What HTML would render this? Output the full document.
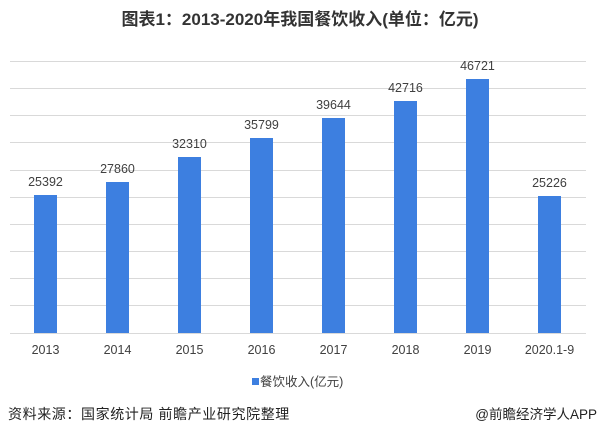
<!DOCTYPE html>
<html><head><meta charset="utf-8"><style>
body{margin:0;background:#fff;}
svg text{font-family:"Liberation Sans","Noto Sans CJK SC",sans-serif;}
</style></head><body>
<svg width="600" height="441" viewBox="0 0 600 441" xmlns="http://www.w3.org/2000/svg">
<rect width="600" height="441" fill="#fff"/>
<text x="300" y="25" text-anchor="middle" font-size="17" font-weight="bold" fill="#333">图表1：2013-2020年我国餐饮收入(单位：亿元)</text>
<g stroke="#d9d9d9" stroke-width="1">
<line x1="10" x2="586" y1="61.5" y2="61.5"/><line x1="10" x2="586" y1="88.5" y2="88.5"/>
<line x1="10" x2="586" y1="115.5" y2="115.5"/><line x1="10" x2="586" y1="142.5" y2="142.5"/>
<line x1="10" x2="586" y1="170.5" y2="170.5"/><line x1="10" x2="586" y1="197.5" y2="197.5"/>
<line x1="10" x2="586" y1="224.5" y2="224.5"/><line x1="10" x2="586" y1="251.5" y2="251.5"/>
<line x1="10" x2="586" y1="278.5" y2="278.5"/><line x1="10" x2="586" y1="305.5" y2="305.5"/>
<line x1="10" x2="586" y1="333.5" y2="333.5"/>
</g>
<g fill="#3d7fe0">
<rect x="34" y="195" width="23" height="138"/>
<rect x="106" y="182" width="23" height="151"/>
<rect x="178" y="157" width="23" height="176"/>
<rect x="250" y="138" width="23" height="195"/>
<rect x="322" y="118" width="23" height="215"/>
<rect x="394" y="101" width="23" height="232"/>
<rect x="466" y="79" width="23" height="254"/>
<rect x="538" y="196" width="23" height="137"/>
</g>
<g font-size="12.5" fill="#404040" text-anchor="middle">
<text x="45.5" y="186">25392</text><text x="117.5" y="173">27860</text>
<text x="189.5" y="148">32310</text><text x="261.5" y="129">35799</text>
<text x="333.5" y="109">39644</text><text x="405.5" y="92">42716</text>
<text x="477.5" y="70">46721</text><text x="549.5" y="187">25226</text>
<text x="45.5" y="354">2013</text><text x="117.5" y="354">2014</text>
<text x="189.5" y="354">2015</text><text x="261.5" y="354">2016</text>
<text x="333.5" y="354">2017</text><text x="405.5" y="354">2018</text>
<text x="477.5" y="354">2019</text><text x="549.5" y="354">2020.1-9</text>
</g>
<rect x="252" y="378" width="7" height="7" fill="#3d7fe0"/>
<text x="260" y="386" font-size="12.5" fill="#404040">餐饮收入(亿元)</text>
<text x="8" y="419" font-size="14" letter-spacing="0.6" fill="#222">资料来源：国家统计局 前瞻产业研究院整理</text>
<text x="597" y="419" font-size="13.5" fill="#222" text-anchor="end">@前瞻经济学人APP</text>
</svg>
</body></html>
